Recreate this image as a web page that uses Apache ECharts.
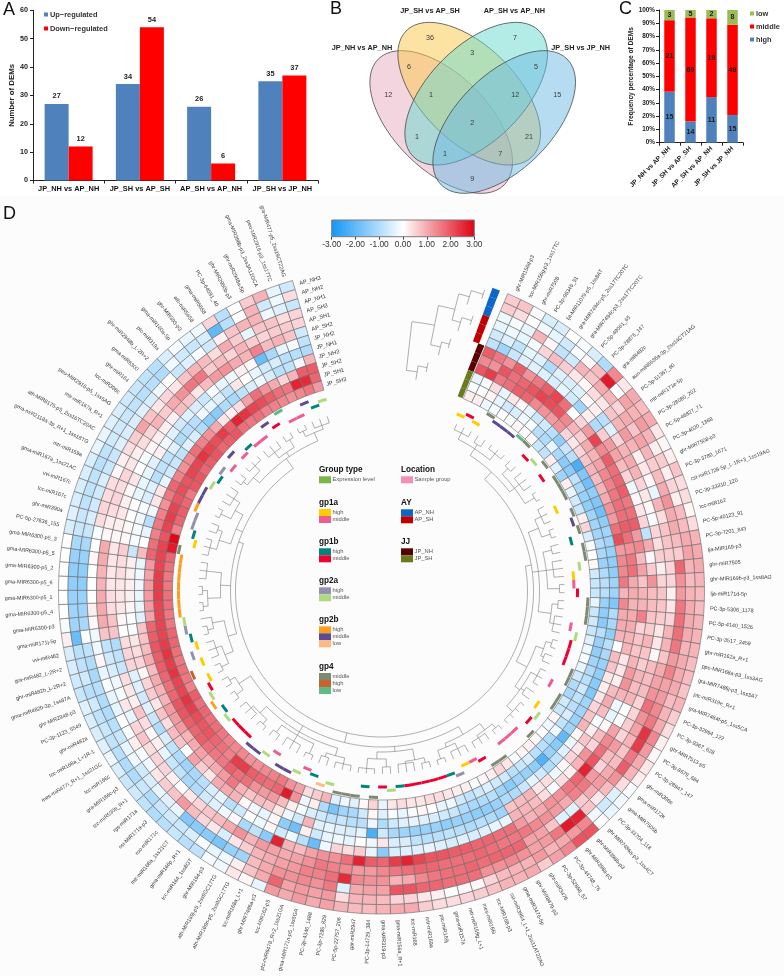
<!DOCTYPE html>
<html>
<head>
<meta charset="utf-8">
<title>DEMs</title>
<script src="https://cdn.jsdelivr.net/npm/echarts@6/dist/echarts.min.js"></script>
<style>
  html, body { margin: 0; padding: 0; background: #fff; }
  #chart { width: 784px; height: 976px; }
</style>
</head>
<body>
<div id="chart"></div>
<script>
// panel A
const comparisons = ['JP_NH vs AP_NH', 'JP_SH vs AP_SH', 'AP_SH vs AP_NH', 'JP_SH vs JP_NH'];
const upRegulated = [27, 34, 26, 35];
const downRegulated = [12, 54, 6, 37];

// panel B
const vennNames = ['JP_SH vs AP_SH', 'AP_SH vs AP_NH', 'JP_NH vs AP_NH', 'JP_SH vs JP_NH'];
const vennCounts = [36, 7, 3, 6, 5, 12, 1, 12, 15, 2, 1, 21, 1, 7, 9];

// panel C
const lowCounts = [3, 5, 2, 8];
const middleCounts = [21, 69, 19, 49];
const highCounts = [15, 14, 11, 15];

// panel D
const sampleNames = ['AP_NH3', 'AP_NH2', 'AP_NH1', 'AP_SH3', 'AP_SH1', 'AP_SH2', 'JP_NH2', 'JP_NH1', 'JP_NH3', 'JP_SH2', 'JP_SH1', 'JP_SH3'];
const miRNAs = [
  'ghr-MIR156d-p3', 'tcc-MIR156g-p3_1ss17TC', 'ghr-miR7508', 'PC-3p-96346_51', 'lja-MIR11079-p5_1ss8AT', 'gra-MIR7494c-p5_2ss17TC20TC',
  'gra-MIR7494c-p3_2ss17TC20TC', 'PC-5p-49061_65', 'PC-3p-28876_147', 'gra-miR482c', 'aun-miR6536a-3p_2ss14CT21AG', 'PC-3p-51367_60',
  'mtr-miR171e-5p', 'PC-3p-28080_202', 'PC-5p-46827_71', 'PC-3p-4020_1368', 'ghr-MIR7508-p3', 'PC-3p-3780_1671',
  'csi-miR1728-5p_L-1R+3_1ss19AG', 'PC-3p-33310_120', 'tcc-miR162', 'PC-5p-40123_91', 'PC-3p-7201_843', 'lja-MIR169-p3',
  'ghr-miR7505', 'ghr-MIR169b-p3_1ss8AG', 'lja-miR171d-5p', 'PC-3p-5306_1178', 'PC-5p-4140_1526', 'PC-3p-3517_2459',
  'ghr-miR162a_R+1', 'ppe-MIR168a-p3_1ss3AG', 'gra-MIR7486j-p3_1ss3A7', 'ptc-miR319e_R+1', 'gra-MIR7484f-p5_1ss5CA', 'PC-3p-32994_122',
  'PC-3p-9367_628', 'ghr-MIR7513-p5', 'PC-3p-8679_684', 'PC-3p-28947_147', 'ghr-miR396e', 'gma-miR172k',
  'gma-MIR7505b', 'PC-3p-33704_118', 'ghr-MIR7486a-p3_1ss4CT', 'ghr-MIR398b-p3', 'ghr-MIR398a-p3', 'PC-3p-44748_76',
  'PC-3p-52868_57', 'ghr-miR3476', 'ghr-MIR8479-p3', 'gma-miR3476-5p', 'csi-miR3954_L+1_2ss11AT22AG', 'tcc-MIR168-p3',
  'mes-miR166i', 'mtr-miR159g_L+1', 'gma-miR157a', 'ptc-miR169j', 'mtr-miR169a', 'tcc-miR168',
  'gma-miR156a_R+1', 'gma-MIR319-p3', 'PC-3p-14729_384', 'gar-miR2947', 'PC-5p-22757_206', 'PC-3p-7295_829',
  'PC-3p-4346_1488', 'gma-MIR171n-p5_1ss5GA', 'ptc-miR6478_R+2_1ss21GA', 'tcc-MIR162-p5', 'ghr-MIR7486a-p3', 'tcc-miR168a_L+1',
  'ath-MIR169n-p5_2ss9GC17TG', 'ath-MIR169j-p5_2ss9GC17TG', 'ghr-MIR164-p3', 'tcc-miR164_1ss8GT', 'gma-miR166p_R+1', 'mtr-miR168a_1ss21CT',
  'roo-miR171c', 'ssi-MIR171a-p3', 'rgs-miR171a', 'tcc-miR530b_R+1', 'gra-MIR166c-p3', 'tcc-miR166c',
  'mes-miR477i_R+1_1ss21GC', 'tcc-miR168a_L+1R-1', 'ghr-miR482a', 'PC-3p-1123_5549', 'ghr-MIR2948-p3', 'gma-miR482b-3p_1ss87A',
  'ghr-miR482b_L-2R+2', 'gra-miR482_L-2R+2', 'vvi-miR482', 'gma-miR171j-5p', 'gma-MIR6300-p3', 'gma-MIR6300-p5_4',
  'gma-MIR6300-p5_1', 'gma-MIR6300-p5_6', 'gma-MIR6300-p5_2', 'gma-MIR6300-p5_5', 'gma-MIR6300-p5_3', 'PC-5p-27836_155',
  'ghr-miR390a', 'tcc-miR167c', 'vvi-miR167c', 'gma-miR167a_1ss21AC', 'mtr-miR159a', 'gma-miR2118a-3p_R+1_1ss18TG',
  'ath-MIR8175-p5_2ss16TC20AC', 'mtr-miR167a_R+1', 'peu-MIR2916-p5_1ss5AG', 'tcc-miR396c', 'ghr-miR164', 'gma-miR6300',
  'ghr-miR2948b_L-2R+2', 'ptc-miR319a', 'gma-miR160a-5p', 'ghr-MIR393-p3', 'ath-miR5658', 'gma-miR5658',
  'PC-3p-64591_40', 'ghr-MIR2950b-p3', 'ghr-miR2948a-5p', 'gma-MIR398b-p3_2ss3A12GCA', 'peu-MIR2916-p3_1ss17TC', 'gra-MIR477-p5_2ss19CT22AG'
];

// one line per miRNA, outer ring to inner ring
const cellValues = [
  [.6,.6,-.2,-.3,-.6,-.8,1.9,1.4,2,-.3,-.1,.2],
  [.7,.4,-.1,-.2,-.4,-1.2,1.6,1.3,2.3,-.1,0,.2],
  [-.1,0,-.3,-.3,-.8,-.7,1.3,2,1.6,.4,.1,-.2],
  [-.5,-.2,.9,-.1,-.3,-.4,1.9,1.7,1.7,-.3,-.3,-.1],
  [-.5,-.3,.1,.5,-.4,-.4,1.3,1.8,1.9,.3,-.6,0],
  [0,-.6,-.8,.8,-1,-.4,1.6,2,1.8,.1,-.5,-.1],
  [-.1,-.1,-.6,.6,-.4,-.5,1.9,2.2,1.4,-.3,-.2,.1],
  [-.5,.1,.9,.3,-.5,-.3,2.2,2.1,1.3,-.7,-.1,0],
  [-1,.8,.7,.1,-.4,-.6,1.7,2,1.2,-.6,-.9,.1],
  [1.4,2.7,1,.4,.1,-1.2,0,1.4,1.3,-.9,-1,-.7],
  [.3,0,.9,.3,.2,.2,.5,.9,.5,-1.4,-.3,-.8],
  [1,1.1,.5,.7,-.9,-1,1.2,.6,.3,-.7,-1.1,.2],
  [.8,.9,1,.9,-.4,.6,2.2,1,.5,-.9,-1.5,-.4],
  [1,1.2,.7,1.2,.5,1.2,1.4,.9,.7,-2.3,-1.5,-1.2],
  [.3,.9,1.1,.9,.9,1.1,1.9,1.1,.9,-1.6,-.8,.2],
  [.1,.2,.9,.2,1,.8,1.7,1.4,.8,-1.8,-1.1,-.3],
  [.2,.6,.6,.3,.9,.5,1.8,1.5,.9,-1.4,-1.3,-.6],
  [.7,.2,.8,.1,.5,-.2,1.9,1.6,1,-1.6,-1.4,-.7],
  [.4,.5,1,-.3,.3,.1,1.6,1.7,1.3,-1.8,-1.2,.2],
  [.4,.2,1.3,.9,.1,.3,1.7,1.7,1.2,-1.4,-1.2,.5],
  [.1,.8,1,.4,-.1,.5,1.9,1.9,1.7,-1.2,-1.2,-.5],
  [.4,.8,1,.7,.5,-.8,1.2,1.7,2.1,-1.2,-1,-.1],
  [.9,1,.8,.7,.4,1,1.4,1.3,1.2,-1.3,-1.1,0],
  [1,1.1,.6,.6,.6,.1,.8,1.6,1.4,-1.4,-1.3,.1],
  [1,.9,1.8,.5,.2,.6,1.1,1.7,1.4,-1.4,-1,-.6],
  [.9,.8,1.3,.5,.5,1.3,.7,1,1.6,-1.2,-.9,-.7],
  [.8,.9,1.2,.2,.7,.8,.9,1,.9,-1.2,-.9,-.7],
  [.8,1,1.6,.3,.7,.8,.9,.9,1.4,-1.6,-1.3,-.3],
  [.9,1,1.7,.5,.6,.7,1.5,1,1,-1,-1.4,-.7],
  [.9,1,1.7,.9,.3,.6,.5,1,1,-1.1,-1.5,-.6],
  [.9,.9,1.6,.9,.3,.9,.7,.9,.9,-1.4,-.9,-.7],
  [.8,1,1.2,.7,.1,.7,.7,.9,0,-.9,-1.3,-.4],
  [.8,1,1.5,1,.8,.6,.9,.3,.8,-1.1,-1.4,-.2],
  [.7,1,1.1,1.1,.8,.9,1.2,.3,.7,-1.3,-1.2,-.1],
  [.9,.8,1.2,1.3,.8,.8,1.3,.2,.3,-1.4,-1,-.3],
  [.6,.9,1.4,1.7,.5,.9,.9,.8,.2,-1.5,-.9,-.6],
  [.4,1,1.6,1.3,.5,0,-.2,1,.3,-1.6,-.6,-1],
  [.2,1.4,2.4,1.1,.6,0,-.3,.8,.5,-1.2,-.8,-1.1],
  [.1,1.2,2.3,.9,.5,1.1,.1,-.1,.7,-1.2,-.9,-.6],
  [.3,1,1.6,.7,1.2,1.4,.8,.2,.9,-1.3,-.5,-.7],
  [.2,.9,1.9,.8,.8,1.7,.5,.7,.1,-1.2,-.8,.1],
  [-.1,.4,1.3,1,.5,2,1.3,.3,-.2,-2,-.2,-.2],
  [-.2,-.4,.8,1.2,1.2,2.6,.9,.5,-.4,-1.5,-1,0],
  [-.3,-.6,.3,1,1.6,1.8,.2,.1,-.8,-1.3,-.9,.1],
  [0,-.2,.7,.6,1.5,1.6,.4,-.2,-1,-2.2,-.9,.2],
  [2,1.4,2.6,-.4,1,1.3,-.1,.4,-.6,-1.4,-.5,.1],
  [2,1.2,2.7,-.4,1.2,1.3,.4,.3,-.3,-1.3,-.7,-.1],
  [1.4,1,1.6,.7,1.3,1,.8,.9,-.7,-1.2,-.9,.3],
  [1.1,.9,1.2,1.1,1.4,.9,.9,.8,-1,-1.5,-.6,.5],
  [.6,1.2,1.1,1.1,1.6,1.2,.9,.7,-1,-1.2,-.6,.2],
  [1,.9,1.3,1.8,1.6,1.7,-.3,-1.2,-1.3,-.9,-.4,.1],
  [.9,.9,1.4,1.8,1.6,1.7,-.3,-1,-1.4,-1,-.6,-.1],
  [.9,.8,1.3,1.8,1.7,1.8,-.4,-.9,-1.4,-1.1,-.8,.2],
  [.7,.5,1.3,1.7,1.8,1.8,-.5,-1,-1.3,-1,-.6,.2],
  [.6,.1,1.7,1.8,1.7,1.9,-.4,-.9,-1.3,-.7,-.2,.3],
  [.5,.1,1.7,1.7,1.7,1.9,-.5,-.8,-1.4,-.6,-.3,.4],
  [.4,0,1.7,1.7,1.7,2,-.4,-.9,-1.3,-.5,0,.4],
  [.4,.2,1.8,1.6,1.8,2,-.3,-.9,-1.3,-.4,.1,.3],
  [.6,.3,1.8,1.4,1.8,2.2,-.4,-.8,-1.3,-.3,-.1,.3],
  [1,.5,2,1,1.7,2.6,-.4,-.5,-1.2,-.4,-.3,.4],
  [1,.5,2,.9,1.6,2.3,-.5,-.5,-1.1,-.6,-.1,.3],
  [.9,.8,1.1,1.3,1.4,1.8,-1.5,.3,-.6,-1,-.4,-.3],
  [.8,.9,1.1,1.3,1.2,1.9,-.3,-.2,-2.3,-.2,.1,.5],
  [.8,.9,1,1.4,1.2,2.6,.6,0,-.3,-.9,-.6,.1],
  [.9,.4,-.4,2.5,1.4,1.7,.4,-.3,-.5,-.9,-1.1,-.4],
  [1.1,1.2,1.6,1.7,1.5,1.3,.5,-.2,-.4,-.7,-1.2,-.2],
  [1,1.1,1.3,1.5,1.6,1.3,-.2,-.3,-.3,-.8,-1.7,-.4],
  [1.2,1.2,1.4,1.5,1.3,1.1,-1.9,-.6,-.4,-.6,-1,.9],
  [1,1.1,1.3,1.2,1.1,.8,-.9,.2,.9,-.5,.2,.6],
  [1.2,1.8,1.3,1.1,1,.9,-.2,-1.8,-.6,-.1,-.2,.4],
  [-.3,1,1,1,1.1,2.6,-.6,-1.4,-.2,.2,1.3,1.1],
  [.1,.7,.8,.9,1.2,-1.5,.1,.1,.3,.8,2.7,1.3],
  [.3,.2,-1.2,.6,.9,-.8,-.2,-.3,.7,1.2,1.8,1.6],
  [-.2,-.2,-1.3,.3,1.3,-1.1,0,-.2,.8,1.2,1.7,1.5],
  [-.1,-.3,-1.7,-.5,1,.1,-.6,.1,.7,1.3,1.8,1.4],
  [-.8,-.1,-1.5,.3,.8,-.2,-.9,.9,.9,1.7,1.9,1.3],
  [-.9,-.5,-1.5,.5,.7,-.4,-.3,1,1.6,1.7,2.3,1.3],
  [-.7,-.7,-1.6,.8,.5,-.6,-.5,1,1.2,1.9,2.3,1.4],
  [-.9,-.6,-.3,1.2,.3,-1,-.9,.3,1,1.6,1.5,1.4],
  [-1,-.7,-.4,.7,0,-1.1,-1.1,.6,.9,1.6,1.7,1.5],
  [-.8,-1,-.3,.6,.2,-.8,-1.2,1.1,1.1,1.7,1.8,1.6],
  [-.6,-.7,-.5,.3,.5,-.7,-1,0,1,1.9,2,1.7],
  [-.7,-1,-.6,-.2,.5,-.3,-.8,.7,.9,1.8,2,1.7],
  [-.5,-1,-.2,-.1,.4,.2,-.5,.8,1.2,1.9,2.1,1.8],
  [-.2,-.9,-.3,.2,.7,.1,-1,.4,1.2,2,2.3,1.7],
  [-.4,-.8,-.7,-.1,.5,.4,-.7,.7,1.2,2,2.4,1.9],
  [-.5,-.7,-.9,0,-.3,.7,-.4,.3,.9,1.8,2.2,1.5],
  [-.5,-.8,-1,-.3,.3,.2,-.6,.6,.9,1.7,2.2,1.6],
  [-.4,-.6,-1,-.3,-.1,.3,-.4,.5,1,1.8,2.4,1.7],
  [-.7,-.9,-.9,-.1,-.2,.4,-.4,.1,.8,1.9,2.3,1.6],
  [-.6,-.6,-1.1,-.3,-.5,-.7,.5,.5,1,1.9,2.4,1.7],
  [-.5,-.8,-1,.1,-.6,-.8,.5,.4,.8,2,2.3,1.8],
  [-.5,-.9,-.8,-.2,-.8,-1,.4,.3,.7,1.9,2.2,1.8],
  [.2,-1.9,-.1,-.2,.7,.7,0,-.1,.7,1.8,2.2,1.6],
  [-.1,-1.2,-1.1,.1,1,.7,.1,0,-.4,1.1,2.2,1.6],
  [0,-1.2,-1.2,.2,1,.4,.3,.1,-.3,1.2,2.2,1.7],
  [0,-1.3,-1.3,0,1,.4,.3,.2,-.3,1.2,2.3,1.7],
  [0,-1.4,-1.4,0,.9,.3,.3,.2,-.2,1.2,2.3,1.6],
  [0,-1.4,-1.4,0,.9,.3,.4,.2,-.2,1.1,2.3,1.6],
  [0,-1.3,-1.3,.1,1,.3,.4,.2,-.3,1.2,2.2,1.7],
  [0,-1.1,-1.1,0,1,.3,.6,-.7,.8,1.8,2.2,1.8],
  [-.5,-.7,-.7,-.1,.1,.1,.1,-.1,0,1.7,2.2,2.7],
  [-.4,-.7,-.5,.4,.2,.2,.1,-.1,-.3,1.5,2,2.9],
  [-.5,-.8,-.6,.5,.4,.3,0,-.2,-.9,1.6,2.2,1.5],
  [-.5,-.8,-.6,.4,.5,.2,0,-.1,-.2,1.5,2.3,1.8],
  [-.5,-.8,-.5,.4,.4,.1,-.3,-.5,.3,1.3,2.2,1.9],
  [-.5,-.9,-.7,.1,.5,.3,-.3,-.4,.3,1.6,2,1.8],
  [-.3,-.8,-.7,.2,.3,0,-.3,-.9,-.3,1.8,2.1,1.6],
  [-.3,-.6,-.4,.4,.2,-.1,-.4,-.8,-.6,1.5,2,2],
  [-.4,-.6,-.5,.6,.4,.1,.2,-.8,-.7,1.3,2.2,2],
  [-.5,-.7,-.5,1.1,.5,.2,-.2,-.4,-.8,1.4,2.2,1.8],
  [-.6,-.8,-.4,.7,.9,.2,-.4,-1,-.4,1.7,2.4,1.9],
  [-.7,-.9,-.5,.3,.6,.2,-.6,-.9,-.5,1.5,2.2,2],
  [-.8,-.9,-.2,.5,1,.8,-.4,-.9,-1,1.3,2.1,1.8],
  [-.9,-1,0,.3,1.3,.7,-.5,-.2,-1.4,1,2.3,1.9],
  [-.5,-.2,-.7,.7,1.6,.3,-.7,-.3,-1.5,.3,1.9,2],
  [-.1,-.6,-.4,.9,1.6,.8,-.1,-.4,-1,.2,2.6,1.7],
  [-.3,-.7,-.1,.8,.6,1.2,-.3,-.8,-1.1,.4,2.4,1.6],
  [-.2,-.5,-.6,.4,.8,1.3,-.2,.3,-.8,1.1,2.2,1.7],
  [.5,-2,.2,1,.5,1,.2,0,-.5,1.7,2.1,1.5],
  [-.9,-.9,.7,.6,.9,.9,.1,-.3,-.2,1.3,1.9,1.5],
  [0,0,.9,-.3,.6,1.5,-1.9,-.6,-.5,1,1.7,1.4],
  [.6,.9,.9,.7,.5,.8,-1.1,-.5,-.9,.5,1.6,1.3],
  [.9,-.6,-.2,.7,.6,.9,-.3,-.9,-.8,.9,2.6,1.4],
  [-.3,-.2,-.4,.4,.6,.7,-.1,-.9,-.2,1.9,2.5,1.6],
  [-.6,.4,-.7,.5,.5,-.6,-.8,-1,.9,1.9,1.8,1.2]
];

// annotation of each miRNA: group + level
const miRNAGroups = [
  'gp1a high','gp1b middle','gp1a high','gp4 middle','gp2b middle','gp2b middle','gp2b middle','gp4 low','gp4 middle','gp1b middle',
  'gp2a middle','gp4 middle','gp1b middle','gp4 middle','gp4 middle','gp4 middle','gp1a high','gp4 middle','gp2b middle','gp4 middle',
  'gp1b high','gp4 middle','gp4 middle','gp2a middle','gp1a high','gp1a middle','gp1b middle','gp4 middle','gp4 middle','gp4 middle',
  'gp1a middle','gp2a middle','gp1b middle','gp1b middle','gp1b middle','gp4 middle','gp4 middle','gp1a middle','gp4 middle','gp4 middle',
  'gp1a high','gp2a middle','gp1b middle','gp4 middle','gp1a middle','gp1a middle','gp1a middle','gp4 middle','gp4 middle','gp1b middle',
  'gp1a middle','gp1a high','gp2a high','gp1b high','gp1b middle','gp1b middle','gp1b middle','gp1b middle','gp1b middle','gp1b high',
  'gp2a middle','gp1b middle','gp4 middle','gp1b high','gp4 middle','gp4 middle','gp4 middle','gp2a middle','gp2b low','gp1b high',
  'gp1a middle','gp2a middle','gp2b middle','gp2b middle','gp1a middle','gp2a middle','gp2b middle','gp2b middle','gp1b middle','gp1b middle',
  'gp1b middle','gp2a middle','gp1b high','gp2b high','gp2a middle','gp1b middle','gp1a high','gp4 high','gp1a high','gp2a high',
  'gp1a high','gp1b high','gp2a high','gp2a middle','gp2b high','gp2b high','gp2b high','gp2b high','gp2b high','gp2b high',
  'gp2b high','gp4 middle','gp1a high','gp1b high','gp2a high','gp2a high','gp2b high','gp2b middle','gp2b middle','gp2a middle',
  'gp1b high','gp2a high','gp1a middle','gp2b middle','gp1a middle','gp1b high','gp1a middle','gp1a middle','gp2b middle','gp1b middle',
  'gp4 low','gp1a middle','gp1a middle','gp2b middle','gp1b high','gp2a middle'
];

const sampleGroups = ['AP_NH','AP_NH','AP_NH','AP_SH','AP_SH','AP_SH','JP_NH','JP_NH','JP_NH','JP_SH','JP_SH','JP_SH'];

// dendrograms: [radius, children...], a bare number is a leaf
const miRNATree = [146,
  [152,
    [162,
      [170, [177, 0, 1, 2], [175, 3, 4], [178, 5, 6, 7]],
      [168, [176, 8, 9], [174, 10, 11, 12], [179, 13, 14]]],
    [158,
      [169, [176, 15, 16, 17], [178, 18, 19]],
      [166, [175, 20, 21], [173, 22, 23, 24], [178, 25, 26]],
      [171, [177, 27, 28], [175, 29, 30, 31]]],
    [164,
      [172, [178, 32, 33], [175, 34, 35]],
      [170, [177, 36, 37, 38], [174, 39, 40], [178, 41, 42, 43, 44]]]],
  [156,
    [165,
      [173, [178, 45, 46], [176, 47, 48, 49]],
      [169, [175, 50, 51, 52], [178, 53, 54]]],
    [161,
      [172, [177, 55, 56], [174, 57, 58, 59]],
      [168, [176, 60, 61], [178, 62, 63, 64]]],
    [163,
      [171, [177, 65, 66, 67], [175, 68, 69]],
      [167, [178, 70, 71], [174, 72, 73, 74], [176, 75, 76]],
      [172, [178, 77, 78], [175, 79, 80, 81]]],
    [170, [178, 82, 83], [176, 84, 85]]],
  [151,
    [160,
      [169, [177, 86, 87], [175, 88, 89, 90]],
      [172, [178, 91, 92], 93]],
    [161,
      [174, [179, 94, 95], [179, 96, 97]],
      [176, 98, 99, 100]],
    [158,
      [170, [177, 101, 102, 103], [175, 104, 105]],
      [167, [178, 106, 107], [174, 108, 109, 110]]],
    [163,
      [171, [176, 111, 112], [178, 113, 114, 115]],
      [168, [175, 116, 117, 118], [177, 119, 120]],
      [172, [178, 121, 122], [176, 123, 124, 125]]]]
];
// sample tree, read from the gap: [slot, radius, radius] stems and [radius, slot, slot] links
const sampleTreeStems = [
  [-6.5, 271, 222], [-4.6, 291, 251], [-3.3, 307, 280], [-2.5, 313.5, 299], [-1.6, 318, 309],
  [-2.6, 285, 271], [-1.8, 290, 280.5], [-3.7, 256, 242.5], [-3.0, 261.5, 252], [-5.4, 228, 214], [-4.5, 233, 223.5]
];
const sampleTreeLinks = [
  [271, -6.5, -4.6], [222, -6.5, -5.4], [291, -4.6, -3.3], [251, -4.6, -3.7], [307, -3.3, -2.5], [280, -3.3, -2.6],
  [313.5, -2.5, -1.6], [285, -2.6, -1.8], [256, -3.7, -3.0], [228, -5.4, -4.5]
];

const groupColors = {
  'gp1a high': '#ffcc00', 'gp1a middle': '#f05c8c',
  'gp1b high': '#00857a', 'gp1b middle': '#ee0033',
  'gp2a high': '#9490b0', 'gp2a middle': '#aedb80',
  'gp2b high': '#ff9e1c', 'gp2b middle': '#5e4a90', 'gp2b low': '#ffb980',
  'gp4 middle': '#7e8a70', 'gp4 high': '#c8622f', 'gp4 low': '#5dbb85',
  'AP_NH': '#0d66c8', 'AP_SH': '#c00000', 'JP_NH': '#5a0000', 'JP_SH': '#6b7a1c'
};
const groupTracks = { gp4: 206.5, gp2b: 203, gp2a: 199.5, gp1b: 196, gp1a: 192.5 };

const FONT = '"Liberation Sans", Arial, sans-serif';
const RING_OUT = 323, RING_W = 9.5;
const SLOTS_PER_TURN = 141.3;
const ringR = k => RING_OUT - RING_W * (k + 0.5);

var chart = echarts.init(document.getElementById('chart'));

// cells
const cellData = [];
cellValues.forEach((row, i) => row.forEach((v, k) => cellData.push([ringR(k), i + 0.5, v])));

// tree -> segments [r1, slot1, r2, slot2]
const treeSegments = [];
function walkTree(node) {
  if (typeof node === 'number') return { r: 183, slot: node + 0.5 };
  const kids = node.slice(1).map(walkTree);
  const first = kids[0].slot, last = kids[kids.length - 1].slot;
  treeSegments.push([node[0], first, node[0], last]);
  kids.forEach(c => treeSegments.push([node[0], c.slot, c.r, c.slot]));
  return { r: node[0], slot: (first + last) / 2 };
}
walkTree(miRNATree);
sampleTreeStems.forEach(s => treeSegments.push([s[1], s[0], s[2], s[0]]));
sampleTreeLinks.forEach(s => treeSegments.push([s[0], s[1], s[0], s[2]]));

function renderCell(params, api) {
  const coord = api.coord([api.value(0), api.value(1)]);
  const size = api.size([RING_W, 1], [api.value(0), api.value(1)]);
  return {
    type: 'sector',
    shape: {
      cx: params.coordSys.cx, cy: params.coordSys.cy,
      r0: coord[2] - size[0] / 2, r: coord[2] + size[0] / 2,
      startAngle: -(coord[3] + size[1] / 2), endAngle: -(coord[3] - size[1] / 2)
    },
    style: { fill: api.visual('color'), stroke: '#6a6a6a', lineWidth: 0.6 }
  };
}

function renderBand(colorOf, thickness, span) {
  return function (params, api) {
    const coord = api.coord([api.value(0), api.value(1)]);
    const size = api.size([thickness, span], [api.value(0), api.value(1)]);
    return {
      type: 'sector',
      shape: {
        cx: params.coordSys.cx, cy: params.coordSys.cy,
        r0: coord[2] - size[0] / 2, r: coord[2] + size[0] / 2,
        startAngle: -(coord[3] + size[1] / 2), endAngle: -(coord[3] - size[1] / 2)
      },
      style: { fill: colorOf(params.dataIndex) }
    };
  };
}

function renderTree(params, api) {
  const r1 = api.value(0), s1 = api.value(1), r2 = api.value(2), s2 = api.value(3);
  const steps = Math.max(1, Math.ceil(Math.abs(s2 - s1) * 2));
  const points = [];
  for (let n = 0; n <= steps; n++) {
    const c = api.coord([r1 + (r2 - r1) * n / steps, s1 + (s2 - s1) * n / steps]);
    points.push([c[0], c[1]]);
  }
  return { type: 'polyline', shape: { points }, style: { fill: null, stroke: '#7a7a7a', lineWidth: 0.6 } };
}

function renderMiRNALabel(params, api) {
  const c = api.coord([api.value(0), api.value(1)]);
  const rightSide = Math.cos(c[3]) > 0;
  return {
    type: 'text', x: c[0], y: c[1],
    rotation: rightSide ? c[3] : c[3] + Math.PI,
    style: {
      text: miRNAs[params.dataIndex], fill: '#3a3a3a', font: '5.4px ' + FONT,
      align: rightSide ? 'left' : 'right', verticalAlign: 'middle'
    }
  };
}

function renderSampleLabel(params, api) {
  const c = api.coord([api.value(0), api.value(1)]);
  return {
    type: 'text', x: c[0], y: c[1],
    rotation: c[3] + Math.PI / 2 + Math.PI,
    style: { text: sampleNames[params.dataIndex], fill: '#3a3a3a', font: '5.7px ' + FONT, align: 'left', verticalAlign: 'middle' }
  };
}

function renderColorBar(params, api) {
  const a = api.coord([-3, 1]), b = api.coord([3, 0]);
  return {
    type: 'rect',
    shape: { x: a[0], y: a[1], width: b[0] - a[0], height: b[1] - a[1] },
    style: {
      fill: new echarts.graphic.LinearGradient(0, 0, 1, 0, [
        { offset: 0, color: '#1296f5' }, { offset: 0.5, color: '#ffffff' }, { offset: 1, color: '#e00012' }
      ]),
      stroke: '#7a7a7a', lineWidth: 1
    }
  };
}

// graphics
const graphics = [
  { type: 'rect', z: -1, shape: { x: 0, y: 196, width: 784, height: 780 }, style: { fill: '#fcfcfc' } }
];
function addText(x, y, text, font, fill, align) {
  graphics.push({ type: 'text', x, y, style: { text, font: font + ' ' + FONT, fill: fill || '#111', align: align || 'left', verticalAlign: 'middle' } });
}
addText(3, 10, 'A', '18px'); addText(330, 9, 'B', '18px'); addText(619, 9, 'C', '18px'); addText(3, 214, 'D', '18px');

// venn
const vennEllipses = [
  { x: 441.2, y: 122, rot: -Math.PI / 4, fill: 'rgba(231,171,193,0.5)' },
  { x: 469.2, y: 93.7, rot: -Math.PI / 4, fill: 'rgba(251,199,71,0.5)' },
  { x: 476.2, y: 93.7, rot: Math.PI / 4, fill: 'rgba(103,217,205,0.5)' },
  { x: 504.2, y: 122, rot: Math.PI / 4, fill: 'rgba(107,185,225,0.5)' }
];
vennEllipses.forEach(e => graphics.push({
  type: 'ellipse', x: e.x, y: e.y, rotation: e.rot,
  shape: { cx: 0, cy: 0, rx: 89, ry: 47.5 },
  style: { fill: e.fill, stroke: '#3f3f3f', lineWidth: 0.7 }
}));
const vennTitlePos = [[430, 10.5], [514.3, 10.5], [362, 48], [580.7, 48]];
vennNames.forEach((n, i) => addText(vennTitlePos[i][0], vennTitlePos[i][1], n, 'bold 7.3px', '#222', 'center'));
const vennPos = [[430, 38.3], [515, 38.3], [472.3, 52.7], [409, 66.7], [536, 66.7], [388.3, 95], [431, 95], [515.3, 95], [557.3, 95],
  [472.3, 123.3], [417, 137], [529, 137], [445, 154], [500.3, 154], [472.3, 179.3]];
vennCounts.forEach((n, i) => addText(vennPos[i][0], vennPos[i][1], String(n), '7.2px', '#3a3a3a', 'center'));

// D legends
const legendBlocks = [
  { x: 319, y: 470, title: 'Group type', items: [['Expression level', '#7ab648']] },
  { x: 401, y: 470, title: 'Location', items: [['Sample group', '#f48fb1']] },
  { x: 319, y: 502.7, title: 'gp1a', items: [['high', groupColors['gp1a high']], ['middle', groupColors['gp1a middle']]] },
  { x: 319, y: 542, title: 'gp1b', items: [['high', groupColors['gp1b high']], ['middle', groupColors['gp1b middle']]] },
  { x: 319, y: 581, title: 'gp2a', items: [['high', groupColors['gp2a high']], ['middle', groupColors['gp2a middle']]] },
  { x: 319, y: 620, title: 'gp2b', items: [['high', groupColors['gp2b high']], ['middle', groupColors['gp2b middle']], ['low', groupColors['gp2b low']]] },
  { x: 319, y: 666.7, title: 'gp4', items: [['middle', groupColors['gp4 middle']], ['high', groupColors['gp4 high']], ['low', groupColors['gp4 low']]] },
  { x: 401, y: 503, title: 'AY', items: [['AP_NH', groupColors['AP_NH']], ['AP_SH', groupColors['AP_SH']]] },
  { x: 401, y: 542, title: 'JJ', items: [['JP_NH', groupColors['JP_NH']], ['JP_SH', groupColors['JP_SH']]] }
];
legendBlocks.forEach(b => {
  addText(b.x, b.y, b.title, 'bold 8.2px', '#111');
  b.items.forEach((it, j) => {
    const top = b.y + 6.3 + j * 7;
    graphics.push({ type: 'rect', shape: { x: b.x, y: top, width: 12, height: 7 }, style: { fill: it[1] } });
    addText(b.x + 13.5, top + 3.5, it[0], '5.8px', '#555');
  });
});

const axisLineBlack = { lineStyle: { color: '#222', width: 1 } };
const shares = (list, i) => list[i] / (lowCounts[i] + middleCounts[i] + highCounts[i]) * 100;
const insideLabel = list => ({
  show: true, position: 'inside', fontSize: 7, fontWeight: 'bold', color: '#1a1a1a', textBorderWidth: 0,
  formatter: p => list[p.dataIndex]
});

const option = {
  animation: false,
  backgroundColor: '#fff',
  textStyle: { fontFamily: FONT },
  graphic: graphics,
  legend: [
    { left: 44, top: 11, padding: 0, orient: 'vertical', itemWidth: 4, itemHeight: 4, itemGap: 7, icon: 'rect',
      data: ['Up\u2212regulated', 'Down\u2212regulated'], textStyle: { fontSize: 7.4, fontWeight: 'bold', color: '#333', padding: [0, 0, 0, -3] } },
    { left: 750, top: 10, padding: 0, orient: 'vertical', itemWidth: 4, itemHeight: 4, itemGap: 6, icon: 'rect',
      data: ['low', 'middle', 'high'], textStyle: { fontSize: 7.4, fontWeight: 'bold', color: '#333', padding: [0, 0, 0, -3] } }
  ],
  visualMap: { show: false, seriesIndex: 6, dimension: 2, min: -3, max: 3, inRange: { color: ['#1296f5', '#ffffff', '#e00012'] } },
  grid: [
    { left: 33, top: 10.3, width: 285, height: 170.2, containLabel: false },
    { left: 659, top: 10, width: 84, height: 132.7, containLabel: false },
    { left: 331.7, top: 220, width: 142.6, height: 16.7, containLabel: false }
  ],
  xAxis: [
    { gridIndex: 0, type: 'category', data: comparisons, axisLine: axisLineBlack, axisTick: { show: true, alignWithLabel: false, length: 3, lineStyle: { color: '#222' } },
      axisLabel: { fontSize: 7.4, fontWeight: 'bold', color: '#111', margin: 5, interval: 0 } },
    { gridIndex: 1, type: 'category', data: comparisons, axisLine: axisLineBlack, axisTick: { show: true, length: 3, lineStyle: { color: '#222' } },
      axisLabel: { fontSize: 6.6, fontWeight: 'bold', color: '#222', margin: 5, rotate: 45, interval: 0 } },
    { gridIndex: 2, type: 'value', min: -3, max: 3, interval: 1, splitLine: { show: false }, axisLine: { show: false },
      axisTick: { show: true, length: 3, lineStyle: { color: '#444' } },
      axisLabel: { fontSize: 8.4, color: '#333', margin: 4, formatter: v => v.toFixed(2) } }
  ],
  yAxis: [
    { gridIndex: 0, type: 'value', min: 0, max: 60, interval: 10, name: 'Number of DEMs', nameLocation: 'middle', nameGap: 17,
      nameTextStyle: { fontSize: 7.8, fontWeight: 'bold', color: '#222' },
      splitLine: { show: false }, axisLine: { show: true, lineStyle: { color: '#222', width: 1 } }, axisTick: { show: true, length: 3, lineStyle: { color: '#222' } },
      axisLabel: { fontSize: 7.2, fontWeight: 'bold', color: '#222', margin: 5 } },
    { gridIndex: 1, type: 'value', min: 0, max: 100, interval: 10, name: 'Frequency percentage of DEMs', nameLocation: 'middle', nameGap: 22,
      nameTextStyle: { fontSize: 6.6, fontWeight: 'bold', color: '#222' },
      splitLine: { show: false }, axisLine: { show: true, lineStyle: { color: '#222', width: 1 } }, axisTick: { show: true, length: 3, lineStyle: { color: '#222' } },
      axisLabel: { fontSize: 6.4, fontWeight: 'bold', color: '#222', margin: 4, formatter: '{value}%' } },
    { gridIndex: 2, type: 'value', min: 0, max: 1, show: false }
  ],
  polar: { center: [381.5, 591], radius: [0, 342] },
  radiusAxis: { type: 'value', min: 0, max: 342, show: false, polarIndex: 0 },
  angleAxis: { type: 'value', min: 0, max: SLOTS_PER_TURN, startAngle: 67, clockwise: true, show: false, polarIndex: 0 },
  series: [
    { name: 'Up\u2212regulated', type: 'bar', xAxisIndex: 0, yAxisIndex: 0, data: upRegulated, barWidth: 24, barGap: 0,
      itemStyle: { color: '#4f81bd' }, label: { show: true, position: 'top', distance: 4, fontSize: 7.4, fontWeight: 'bold', color: '#222' } },
    { name: 'Down\u2212regulated', type: 'bar', xAxisIndex: 0, yAxisIndex: 0, data: downRegulated, barWidth: 24, barGap: 0,
      itemStyle: { color: '#ff0000' }, label: { show: true, position: 'top', distance: 4, fontSize: 7.4, fontWeight: 'bold', color: '#222' } },
    { name: 'high', type: 'bar', stack: 'c', xAxisIndex: 1, yAxisIndex: 1, barWidth: 10.5, itemStyle: { color: '#4f81bd' },
      data: highCounts.map((v, i) => shares(highCounts, i)), label: insideLabel(highCounts) },
    { name: 'middle', type: 'bar', stack: 'c', xAxisIndex: 1, yAxisIndex: 1, barWidth: 10.5, itemStyle: { color: '#ff0000' },
      data: middleCounts.map((v, i) => shares(middleCounts, i)), label: insideLabel(middleCounts) },
    { name: 'low', type: 'bar', stack: 'c', xAxisIndex: 1, yAxisIndex: 1, barWidth: 10.5, itemStyle: { color: '#9bbb59' },
      data: lowCounts.map((v, i) => shares(lowCounts, i)), label: insideLabel(lowCounts) },
    { type: 'custom', coordinateSystem: 'cartesian2d', xAxisIndex: 2, yAxisIndex: 2, data: [[0, 0]], renderItem: renderColorBar, silent: true },
    // heat rings
    { type: 'custom', coordinateSystem: 'polar', polarIndex: 0, data: cellData, encode: { radius: 0, angle: 1 }, renderItem: renderCell, silent: true },
    // annotation tracks
    { type: 'custom', coordinateSystem: 'polar', polarIndex: 0,
      data: miRNAGroups.map((g, i) => [groupTracks[g.split(' ')[0]], i + 0.5]), encode: { radius: 0, angle: 1 },
      renderItem: renderBand(i => groupColors[miRNAGroups[i]], 3, 1), silent: true },
    // sample bars
    { type: 'custom', coordinateSystem: 'polar', polarIndex: 0,
      data: sampleGroups.map((g, k) => [ringR(k), k < 6 ? -0.86 : -0.37]), encode: { radius: 0, angle: 1 },
      renderItem: renderBand(k => groupColors[sampleGroups[k]], RING_W, 0.55), silent: true },
    // dendrograms
    { type: 'custom', coordinateSystem: 'polar', polarIndex: 0, data: treeSegments, encode: { radius: [0, 2], angle: [1, 3] }, renderItem: renderTree, silent: true },
    // labels
    { type: 'custom', coordinateSystem: 'polar', polarIndex: 0, data: miRNAs.map((n, i) => [329, i + 0.5]), encode: { radius: 0, angle: 1 }, renderItem: renderMiRNALabel, silent: true },
    { type: 'custom', coordinateSystem: 'polar', polarIndex: 0, data: sampleNames.map((n, k) => [ringR(k), 126.4]), encode: { radius: 0, angle: 1 }, renderItem: renderSampleLabel, silent: true }
  ]
};
chart.setOption(option);
</script>
</body>
</html>
